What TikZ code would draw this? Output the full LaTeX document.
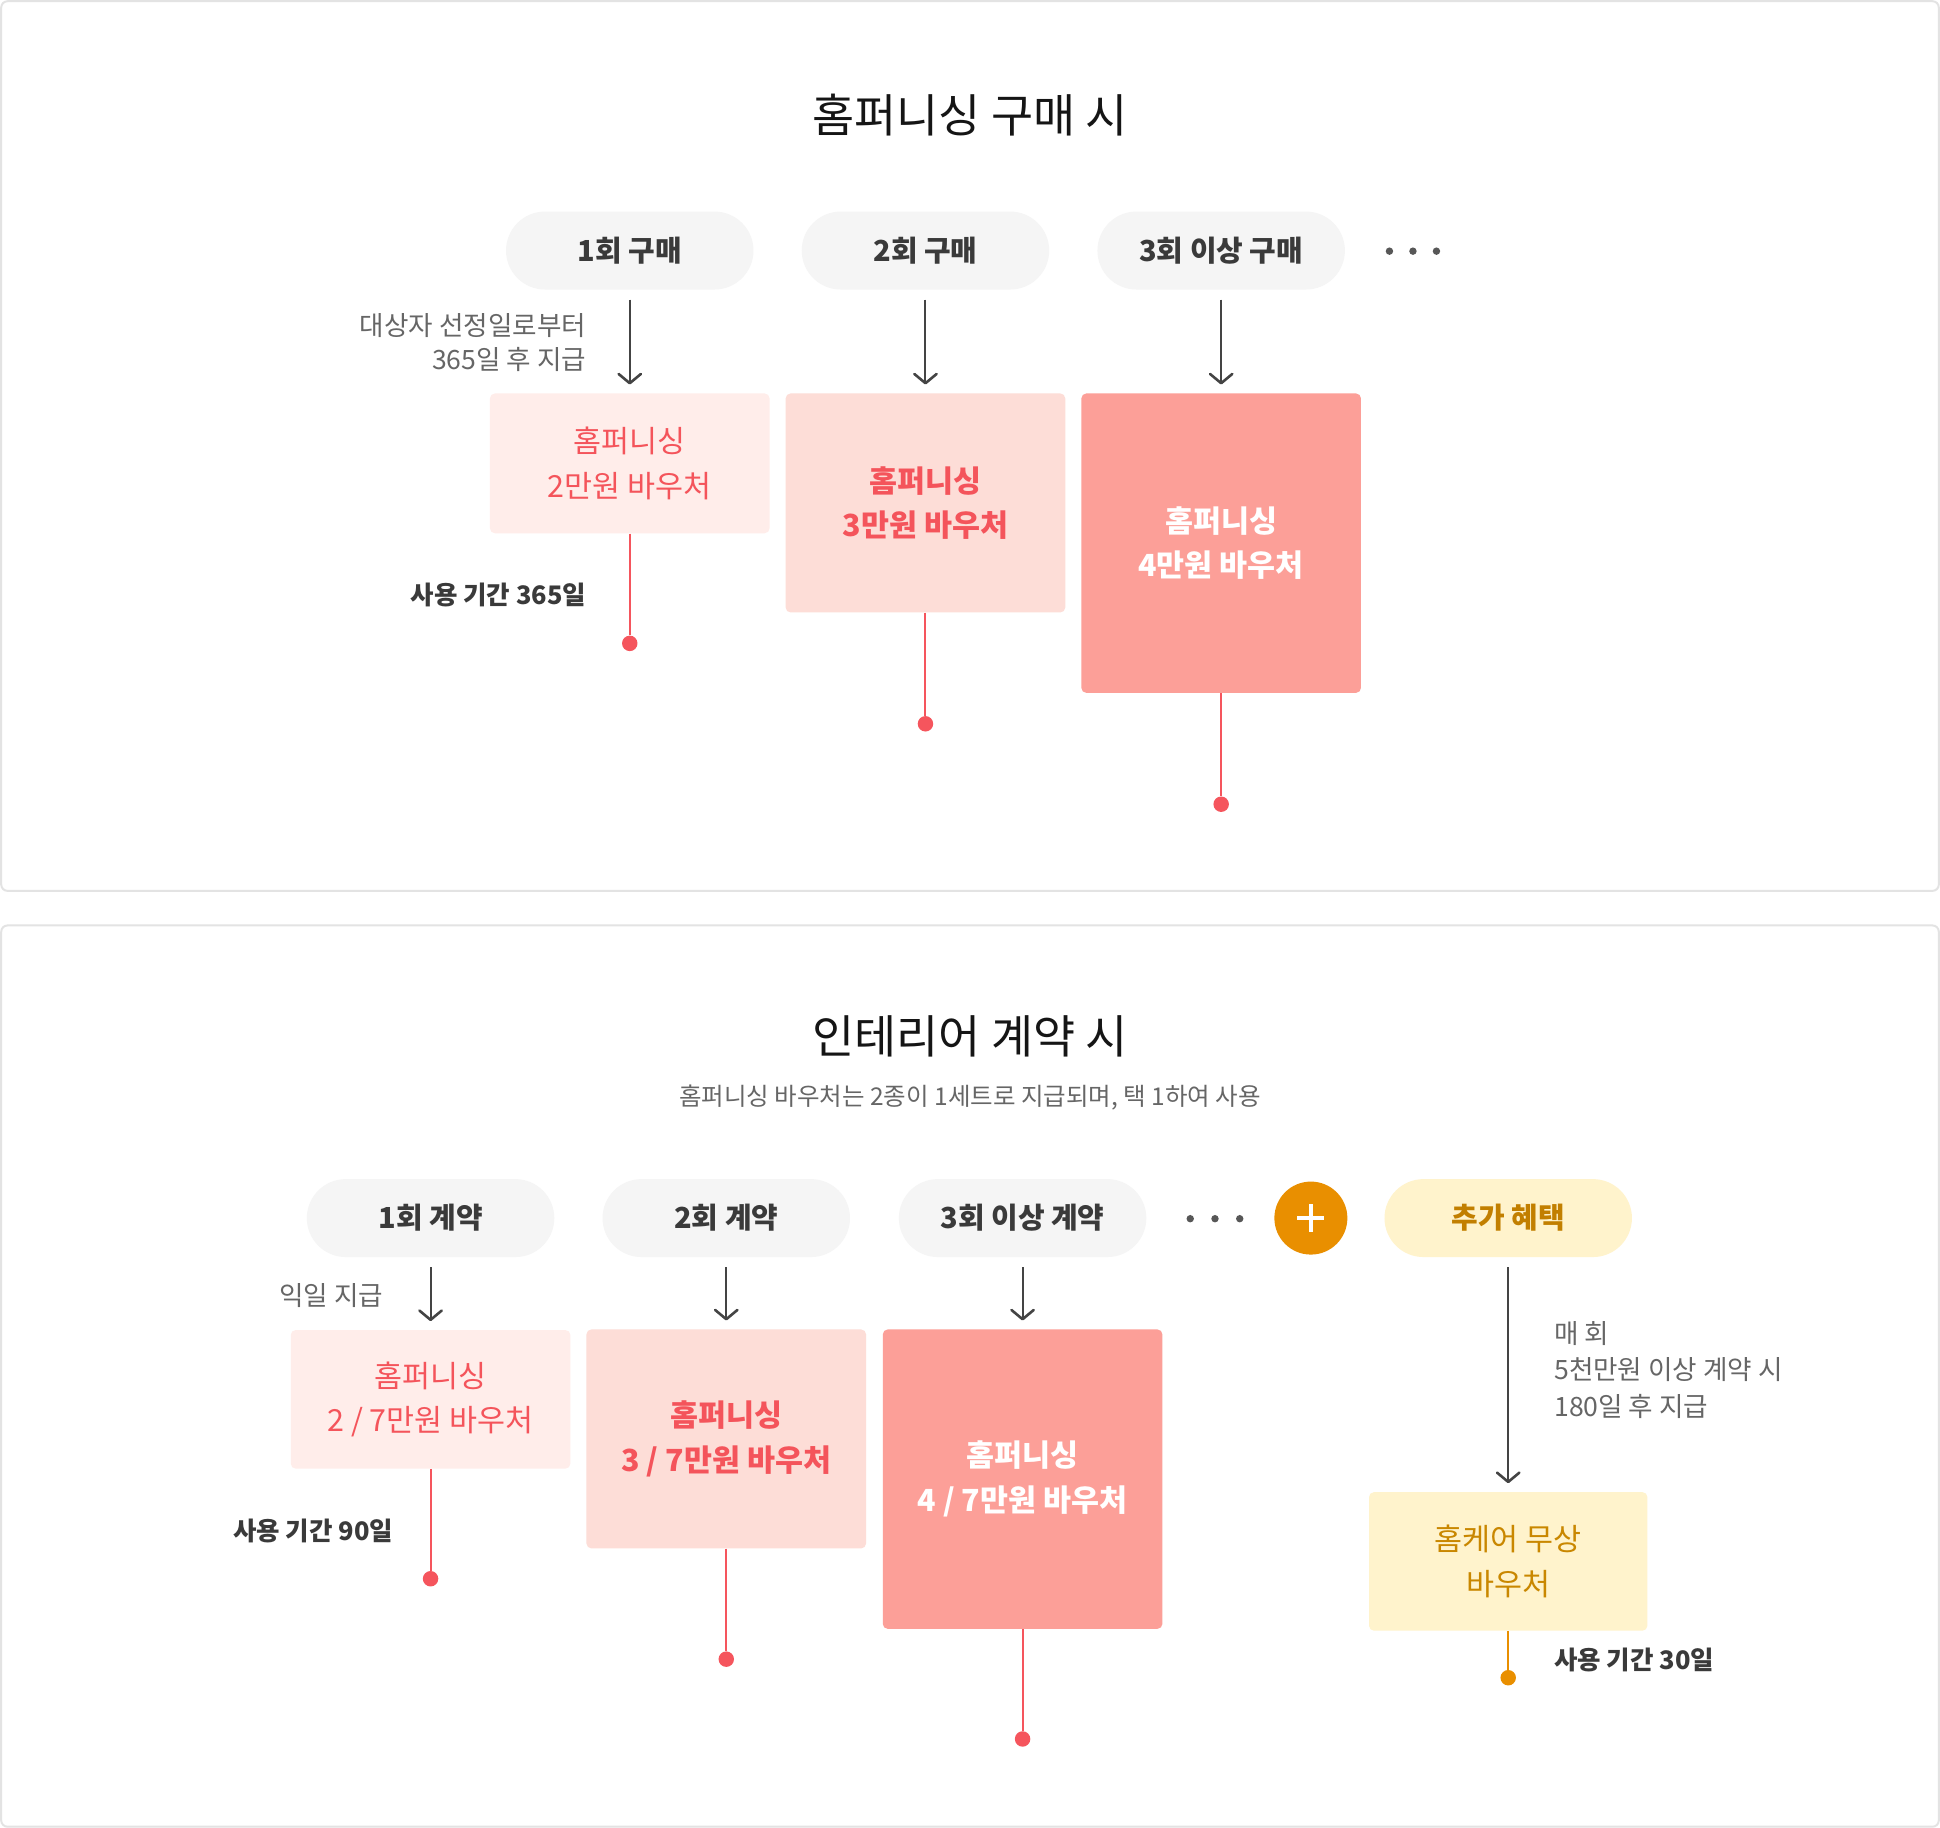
\documentclass[tikz,border=0pt]{standalone}
\usepackage{fontspec}
\setmainfont{Noto Sans CJK KR}
\usetikzlibrary{arrows.meta}
\definecolor{panelborder}{HTML}{E3E3E3}
\definecolor{pillgray}{HTML}{F5F5F5}
\definecolor{pilltext}{HTML}{3A3A3A}
\definecolor{titlec}{HTML}{151515}
\definecolor{graytext}{HTML}{666666}
\definecolor{arrowc}{HTML}{444444}
\definecolor{boxa}{HTML}{FFEDEA}
\definecolor{boxb}{HTML}{FDDDD7}
\definecolor{boxc}{HTML}{FC9F98}
\definecolor{redtext}{HTML}{F4545B}
\definecolor{redline}{HTML}{F5555D}
\definecolor{yellowfill}{HTML}{FFF3CC}
\definecolor{goldtext}{HTML}{C27F00}
\definecolor{goldtextb}{HTML}{C98700}
\definecolor{orangec}{HTML}{E98F00}
\begin{document}
\begin{tikzpicture}[x=1pt,y=-1pt,
  panel/.style={draw=panelborder,line width=1.6pt,fill=white,rounded corners=5pt},
  pill/.style={fill=pillgray,rounded corners=31.5pt,minimum width=200pt,minimum height=63pt,inner sep=0pt,
    font=\fontsize{23.4}{27}\selectfont\bfseries,text=pilltext},
  goldpill/.style={pill,fill=yellowfill,text=goldtext},
  title/.style={font=\fontsize{37}{42}\selectfont,text=titlec,inner sep=0pt},
  subtitle/.style={font=\fontsize{19.8}{24}\selectfont,text=graytext,inner sep=0pt},
  note/.style={font=\fontsize{21.5}{27}\selectfont,text=graytext,inner sep=0pt},
  period/.style={font=\fontsize{20.6}{24}\selectfont\bfseries,text=pilltext,inner sep=0pt},
  vbox/.style={rounded corners=4pt,minimum width=226pt,inner sep=0pt,align=center,
    font=\fontsize{24.6}{36}\selectfont},
  boxA/.style={vbox,fill=boxa,text=redtext},
  boxB/.style={vbox,fill=boxb,text=redtext,font=\fontsize{24.6}{36}\selectfont\bfseries},
  boxC/.style={vbox,fill=boxc,text=white,font=\fontsize{24.6}{36}\selectfont\bfseries},
  boxY/.style={vbox,fill=yellowfill,text=goldtextb},
  arr/.style={draw=arrowc,line width=1.6pt,shorten <=8pt,shorten >=7pt,
    -{Straight Barb[length=7.5pt,width=18pt,line width=2.1pt,round]}},
  rline/.style={draw=redline,line width=1.6pt},
  oline/.style={draw=orangec,line width=1.6pt},
  rdot/.style={circle,fill=redline,minimum size=12.5pt,inner sep=0pt},
  odot/.style={circle,fill=orangec,minimum size=12.5pt,inner sep=0pt},
  gdot/.style={circle,fill=arrowc!90,minimum size=6pt,inner sep=0pt}
]
\useasboundingbox (0,0) rectangle (1568,1477.4);
\fill[white] (0,0) rectangle (1568,1477.4);
\draw[panel] (1,1) rectangle (1567,720);
\draw[panel] (1,748) rectangle (1567,1476.4);

% ---------- top panel ----------
\node[title] (t1) at (784,93) {홈퍼니싱 구매 시};

\node[pill] (p1) at (509,202.5) {1회 구매};
\node[pill] (p2) at (748,202.5) {2회 구매};
\node[pill] (p3) at (987,202.5) {3회 이상 구매};
\node[gdot] (e1) at (1123,203) {};
\node[gdot] (e2) at (1142,203) {};
\node[gdot] (e3) at (1161,203) {};

\node[boxA,minimum height=113pt] (b1) at (509,374.5) {홈퍼니싱\\2만원 바우처};
\node[boxB,minimum height=177pt] (b2) at (748,406.5) {홈퍼니싱\\3만원 바우처};
\node[boxC,minimum height=242pt] (b3) at (987,439) {홈퍼니싱\\4만원 바우처};

\draw[arr] (p1) -- (b1);
\draw[arr] (p2) -- (b2);
\draw[arr] (p3) -- (b3);

\node[note,anchor=east,align=right] (n1) at (474,277) {대상자 선정일로부터\\365일 후 지급};
\node[period,anchor=east] (u1) at (474,481) {사용 기간 365일};

\node[rdot] (d1) at (509,520) {};
\node[rdot] (d2) at (748,585) {};
\node[rdot] (d3) at (987,650) {};
\draw[rline] (b1) -- (d1);
\draw[rline] (b2) -- (d2);
\draw[rline] (b3) -- (d3);

% ---------- bottom panel ----------
\node[title] (t2) at (784,838) {인테리어 계약 시};
\node[subtitle] (s2) at (784,887) {홈퍼니싱 바우처는 2종이 1세트로 지급되며, 택 1하여 사용};

\node[pill] (q1) at (348,984.5) {1회 계약};
\node[pill] (q2) at (587,984.5) {2회 계약};
\node[pill] (q3) at (826.5,984.5) {3회 이상 계약};
\node[gdot] (f1) at (962,985) {};
\node[gdot] (f2) at (982,985) {};
\node[gdot] (f3) at (1002,985) {};
\node[circle,fill=orangec,minimum size=59pt,inner sep=0pt] (plus) at (1059.5,984.5) {};
\draw[white,line width=3pt] ([xshift=-11pt]plus.center) -- ([xshift=11pt]plus.center);
\draw[white,line width=3pt] ([yshift=-11pt]plus.center) -- ([yshift=11pt]plus.center);
\node[goldpill] (q4) at (1219,984.5) {추가 혜택};

\node[boxA,minimum height=112pt] (c1) at (348,1131) {홈퍼니싱\\2 / 7만원 바우처};
\node[boxB,minimum height=177pt] (c2) at (587,1163) {홈퍼니싱\\3 / 7만원 바우처};
\node[boxC,minimum height=242pt] (c3) at (826.5,1195.5) {홈퍼니싱\\4 / 7만원 바우처};
\node[boxY,minimum height=112pt,minimum width=225pt] (c4) at (1219,1262) {홈케어 무상\\바우처};

\draw[arr] (q1) -- (c1);
\draw[arr] (q2) -- (c2);
\draw[arr] (q3) -- (c3);
\draw[arr] (q4) -- (c4);

\node[note,anchor=east] (n2) at (310,1047) {익일 지급};
\node[note,anchor=west,align=left,font=\fontsize{21.5}{29.5}\selectfont] (n3) at (1256,1107) {매 회\\5천만원 이상 계약 시\\180일 후 지급};
\node[period,anchor=east] (u2) at (318,1237) {사용 기간 90일};
\node[period,anchor=west] (u4) at (1256,1342) {사용 기간 30일};

\node[rdot] (g1) at (348,1276) {};
\node[rdot] (g2) at (587,1341) {};
\node[rdot] (g3) at (826.5,1405.5) {};
\node[odot] (g4) at (1219,1356) {};
\draw[rline] (c1) -- (g1);
\draw[rline] (c2) -- (g2);
\draw[rline] (c3) -- (g3);
\draw[oline] (c4) -- (g4);
\end{tikzpicture}
\end{document}
